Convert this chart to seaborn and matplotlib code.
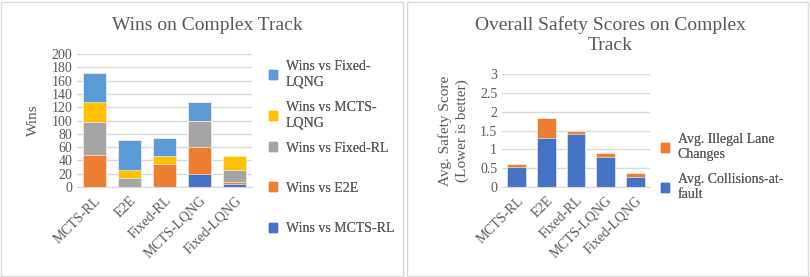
import numpy as np
import matplotlib.pyplot as plt
import seaborn as sns
from matplotlib.patches import Rectangle, Patch

sns.set_style("white")
plt.rcParams['font.family'] = ['Liberation Serif', 'DejaVu Serif']

# data
models = ["MCTS-RL", "E2E", "Fixed-RL", "MCTS-LQNG", "Fixed-LQNG"]
win_series = ["Wins vs MCTS-RL", "Wins vs E2E", "Wins vs Fixed-RL",
              "Wins vs MCTS-LQNG", "Wins vs Fixed-LQNG"]
wins_vs_mcts_rl = [0, 0, 0, 20, 5]
wins_vs_e2e = [48, 0, 35, 40, 2]
wins_vs_fixed_rl = [50, 14, 0, 39, 18]
wins_vs_mcts_lqng = [30, 11, 11, 0, 21]
wins_vs_fixed_lqng = [44, 46, 28, 29, 0]
win_colors = ["#4472C4", "#ED7D31", "#A5A5A5", "#FFC000", "#5B9BD5"]
win_legend_labels = ["Wins vs MCTS-RL", "Wins vs E2E", "Wins vs Fixed-RL",
                     "Wins vs MCTS-\nLQNG", "Wins vs Fixed-\nLQNG"]

collisions = [0.53, 1.30, 1.40, 0.80, 0.27]
illegal_lane = [0.08, 0.52, 0.10, 0.10, 0.10]
safety_colors = ["#4472C4", "#ED7D31"]
safety_legend_labels = ["Avg. Collisions-at-\nfault", "Avg. Illegal Lane\nChanges"]

txt = "#595959"
grid = "#D9D9D9"

fig = plt.figure(figsize=(8.1, 2.77), dpi=100)

# panel borders like the Excel chart areas
for x0, w in [(1 / 810, 402 / 810), (407 / 810, 401 / 810)]:
    fig.patches.append(Rectangle((x0, 1 / 277), w, 274 / 277, transform=fig.transFigure,
                                 fill=False, edgecolor="#D9D9D9", linewidth=1))


def style_axis(ax):
    for s in ["top", "right", "left"]:
        ax.spines[s].set_visible(False)
    ax.spines["bottom"].set_color(grid)
    ax.yaxis.grid(True, color=grid, linewidth=1)
    ax.set_axisbelow(True)
    ax.tick_params(axis="both", length=0, colors=txt, labelsize=10)
    ax.tick_params(axis="x", pad=5)
    ax.set_xlim(-0.5, 4.5)
    plt.setp(ax.get_xticklabels(), rotation=45, ha="right", rotation_mode="anchor")


def spread_legend(handles, labels, x_px, y_px_list):
    # Excel spreads legend entries evenly; one legend per entry
    for h, lab, y in zip(handles, labels, y_px_list):
        leg = fig.legend([h], [lab], loc="center left",
                         bbox_to_anchor=(x_px / 810, 1 - y / 277),
                         frameon=False, fontsize=10, labelcolor=txt, handlelength=0.6,
                         handleheight=0.6, handletextpad=0.6, borderaxespad=0,
                         borderpad=0)
        for t in leg.get_texts():
            t.set_linespacing(1.25)
        fig.add_artist(leg)


# left chart: stacked wins
ax1 = fig.add_axes([77 / 810, 90 / 277, 175 / 810, 133 / 277])
stack = np.cumsum([wins_vs_mcts_rl, wins_vs_e2e, wins_vs_fixed_rl,
                   wins_vs_mcts_lqng, wins_vs_fixed_lqng], axis=0)
for i in range(len(win_series) - 1, -1, -1):
    sns.barplot(x=models, y=stack[i], color=win_colors[i], saturation=1,
                width=0.63, edgecolor="white", linewidth=0.4, ax=ax1)
ax1.set_ylim(0, 200)
ax1.set_yticks(np.arange(0, 201, 20))
ax1.set_ylabel("Wins", color=txt, fontsize=11, labelpad=8)
style_axis(ax1)
fig.text(207 / 810, 1 - 25 / 277, "Wins on Complex Track", ha="center", va="center",
         fontsize=14, color=txt)
h1 = [Patch(color=win_colors[i]) for i in range(4, -1, -1)]
spread_legend(h1, win_legend_labels[::-1], 269, [74, 115, 148, 188, 229])

# right chart: stacked safety scores
ax2 = fig.add_axes([502 / 810, 90 / 277, 148 / 810, 113 / 277])
sns.barplot(x=models, y=np.add(collisions, illegal_lane), color=safety_colors[1],
            saturation=1, width=0.64, edgecolor="white", linewidth=0.4, ax=ax2)
sns.barplot(x=models, y=collisions, color=safety_colors[0], saturation=1,
            width=0.64, edgecolor="white", linewidth=0.4, ax=ax2)
ax2.set_ylim(0, 3)
ax2.set_yticks(np.arange(0, 3.01, 0.5))
ax2.set_yticklabels(["0", "0.5", "1", "1.5", "2", "2.5", "3"])
ax2.set_ylabel("Avg. Safety Score\n(Lower is better)", color=txt, fontsize=11,
               linespacing=1.3, labelpad=8)
style_axis(ax2)
fig.text(610 / 810, 1 - 35 / 277, "Overall Safety Scores on Complex\nTrack", ha="center",
         va="center", fontsize=14, color=txt, linespacing=1.2)
h2 = [Patch(color=c) for c in safety_colors[::-1]]
spread_legend(h2, safety_legend_labels[::-1], 661, [147, 187])

plt.savefig("out.png", dpi=100)
